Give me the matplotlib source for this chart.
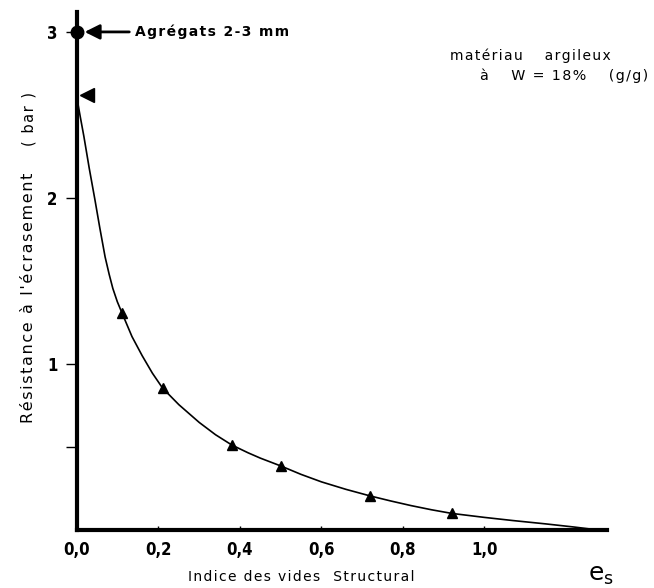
import matplotlib
matplotlib.use("Agg")
import matplotlib.pyplot as plt

matplotlib.rcParams['font.family'] = 'DejaVu Sans'

# points mesurés (triangles)
es_pts = [0.11, 0.21, 0.38, 0.50, 0.72, 0.92]
res_pts = [1.31, 0.855, 0.51, 0.386, 0.205, 0.10]

# tracé de la courbe
es_curve = [0.0, 0.008, 0.017, 0.030, 0.044, 0.056, 0.069, 0.079, 0.088,
            0.099, 0.11, 0.135, 0.16, 0.185, 0.21, 0.25, 0.30, 0.34, 0.38,
            0.42, 0.45, 0.50, 0.55, 0.60, 0.66, 0.72, 0.77, 0.82, 0.87,
            0.92, 1.0, 1.07, 1.15, 1.22, 1.28]
res_curve = [2.60, 2.49, 2.37, 2.18, 1.99, 1.82, 1.645, 1.54, 1.455,
             1.375, 1.31, 1.165, 1.05, 0.945, 0.855, 0.755, 0.648, 0.574, 0.512,
             0.465, 0.433, 0.386, 0.335, 0.29, 0.245, 0.205, 0.175, 0.147, 0.122,
             0.10, 0.076, 0.057, 0.037, 0.018, 0.0]

# agrégats 2-3 mm et point de départ
agg_es, agg_res = 0.0, 3.0
start_es, start_res = 0.025, 2.62

xticks = [0.0, 0.2, 0.4, 0.6, 0.8, 1.0]
xlabels = ["0,0", "0,2", "0,4", "0,6", "0,8", "1,0"]
yticks = [0.5, 1, 2, 3]
ylabels = ["", "1", "2", "3"]


def track(s, sp='\u200a'):
    # lettres espacées comme sur l'original
    return sp.join(s)


fig = plt.figure(figsize=(6.54, 5.88), dpi=100)
ax = fig.add_axes([0.1177, 0.0986, 0.810, 0.881])

ax.plot(es_curve, res_curve, color='black', lw=1.2, solid_joinstyle='round')
ax.plot(es_pts, res_pts, linestyle='none', marker='^', ms=7, color='black')
ax.plot([agg_es], [agg_res], marker='o', ms=9, color='black', clip_on=False, zorder=5)
ax.plot([start_es], [start_res], marker='<', ms=10, color='black', clip_on=False, zorder=5)

ax.annotate(track("Agrégats 2-3 mm"), xy=(0.012, 3.0), xytext=(0.142, 3.0),
            fontsize=10, fontweight='bold', va='center', ha='left',
            arrowprops=dict(arrowstyle='-|>,head_length=0.9,head_width=0.45',
                            color='black', lw=2.0))

ax.set_xlim(0, 1.30)
ax.set_ylim(0, 3.12)

for side in ['top', 'right']:
    ax.spines[side].set_visible(False)
for side in ['left', 'bottom']:
    ax.spines[side].set_linewidth(3)

ax.set_xticks(xticks)
ax.set_xticklabels(xlabels, fontsize=12, fontweight='bold', fontstretch='condensed')
ax.set_yticks(yticks)
ax.set_yticklabels(ylabels, fontsize=12, fontweight='bold', fontstretch='condensed')
ax.tick_params(axis='x', length=3, width=1, direction='in', pad=8)
ax.tick_params(axis='y', length=8, width=1, direction='out', pad=6)

ax.text(1.285, -0.2, "e$_\\mathrm{s}$", fontsize=18, ha='center', va='top')
fig.text(0.46, 0.006, track("Indice des vides") + "   " + track("Structural"),
         fontsize=10, ha='center', va='bottom')
fig.text(0.044, 0.493, track("Résistance à l'écrasement"), fontsize=11.5,
         rotation=90, ha='center', va='center')
fig.text(0.044, 0.797, track("( bar )"), fontsize=10.5,
         rotation=90, ha='center', va='center')

fig.text(0.688, 0.906, track("matériau") + "     " + track("argileux"),
         fontsize=10, ha='left', va='center')
fig.text(0.734, 0.871, track("à") + "     " + track("W = 18%") + "     " + track("(g/g)"),
         fontsize=10.3, ha='left', va='center')

fig.savefig("out.png", dpi=100)
